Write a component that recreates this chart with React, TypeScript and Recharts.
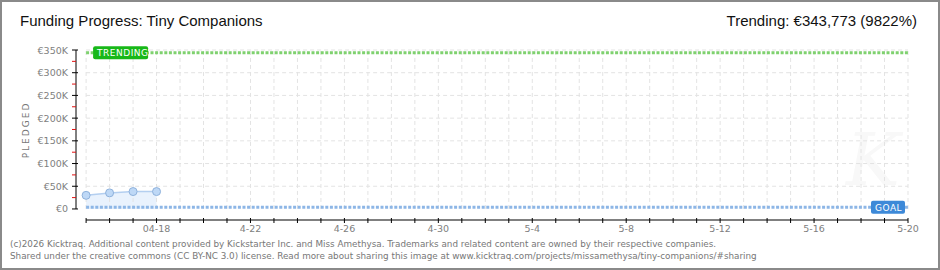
import { ComposedChart, Area, XAxis, YAxis, ReferenceLine } from "recharts";

// pledged totals by day (day 0 = 04-15)
const pledgeDates = ["04-15", "04-16", "04-17", "04-18"];
const pledgeDays = [0, 1, 2, 3];
const pledgedValues = [30000, 35400, 38300, 38300];

const trendingValue = 343773;
const goalValue = 3500;

const dayTicks = [
  0, 1, 2, 3, 4, 5, 6, 7, 8, 9, 10, 11, 12, 13, 14, 15, 16, 17, 18, 19, 20, 21,
  22, 23, 24, 25, 26, 27, 28, 29, 30, 31, 32, 33, 34, 35,
];
const labelDays = [3, 7, 11, 15, 19, 23, 27, 31, 35];
const labelTexts = ["04-18", "4-22", "4-26", "4-30", "5-4", "5-8", "5-12", "5-16", "5-20"];

const yTicks = [
  0, 25000, 50000, 75000, 100000, 125000, 150000, 175000, 200000, 225000, 250000,
  275000, 300000, 325000, 350000,
];
const gridValues = [50000, 100000, 150000, 200000, 250000, 300000, 350000];

const X_MIN = -0.43;
const Y_MIN = -24300;
const FONT = "'DejaVu Sans', sans-serif";

const data = pledgeDays.map((d, i) => ({ day: d, date: pledgeDates[i], pledged: pledgedValues[i] }));

function fmtK(v: number) {
  return v === 0 ? "€0" : `€${v / 1000}K`;
}

function YTick({ x, y, payload }: any) {
  const v = payload.value as number;
  const major = v % 50000 === 0;
  if (!major) {
    return <line x1={x - 4} x2={x} y1={y} y2={y} stroke="#e01010" />;
  }
  return (
    <g>
      <line x1={x - 4} x2={x + 2} y1={y} y2={y} stroke="#000" />
      <text x={x - 8} y={y} dy={3.5} textAnchor="end" fontSize={9.5} fill="#808080" fontFamily={FONT}>
        {fmtK(v)}
      </text>
    </g>
  );
}

function XTick({ x, y, payload }: any) {
  const idx = labelDays.indexOf(payload.value);
  return (
    <g>
      <line x1={x} x2={x} y1={y - 2} y2={y + 3} stroke="#000" />
      {idx >= 0 && (
        <text x={x} y={y + 12} textAnchor="middle" fontSize={9.5} fill="#808080" fontFamily={FONT}>
          {labelTexts[idx]}
        </text>
      )}
    </g>
  );
}

function Badge({ viewBox, text, fill, atEnd }: any) {
  const w = text.length > 4 ? 55 : 34;
  const bx = atEnd ? viewBox.x + viewBox.width - w - 3 : viewBox.x + 7;
  const by = viewBox.y - 6.5;
  return (
    <g>
      <rect x={bx} y={by} width={w} height={13} rx={2} fill={fill} />
      <text x={bx + 4} y={by + 10} fontSize={9} fill="#fff" fontFamily={FONT} letterSpacing={0.5}>
        {text}
      </text>
    </g>
  );
}

export default function App() {
  return (
    <div
      style={{
        position: "absolute",
        left: 0,
        top: 0,
        width: 940,
        height: 270,
        background: "#fff",
        overflow: "hidden",
      }}
    >
      <div
        style={{
          position: "absolute",
          left: 846,
          top: 124,
          fontSize: 72,
          lineHeight: "72px",
          fontStyle: "italic",
          fontFamily: "'DejaVu Serif', serif",
          color: "#f8f8f8",
        }}
      >
        K
      </div>
      <div style={{ position: "absolute", left: 20, top: 12, fontSize: 15, fontFamily: "'Liberation Sans', sans-serif", color: "#111" }}>
        Funding Progress: Tiny Companions
      </div>
      <div style={{ position: "absolute", right: 23, top: 12, fontSize: 15, fontFamily: "'Liberation Sans', sans-serif", color: "#111" }}>
        Trending: €343,773 (9822%)
      </div>
      <div
        style={{
          position: "absolute",
          left: 26,
          top: 130,
          transform: "translate(-50%, -50%) rotate(-90deg)",
          fontSize: 9,
          letterSpacing: 2,
          fontFamily: FONT,
          color: "#777",
        }}
      >
        PLEDGED
      </div>
      <div style={{ position: "absolute", left: 0, top: 0 }}>
        <ComposedChart width={940} height={270} data={data} margin={{ top: 50, right: 32, bottom: 30, left: 0 }}>
          <XAxis
            dataKey="day"
            type="number"
            domain={[X_MIN, 35]}
            ticks={dayTicks}
            interval={0}
            axisLine={false}
            tickLine={false}
            tickSize={0}
            tickMargin={0}
            height={20}
            tick={<XTick />}
          />
          <YAxis
            type="number"
            domain={[Y_MIN, 350000]}
            ticks={yTicks}
            interval={0}
            axisLine={false}
            tickLine={false}
            tickSize={0}
            tickMargin={0}
            width={76}
            tick={<YTick />}
          />
          {gridValues.map((v) => (
            <ReferenceLine
              key={`h${v}`}
              segment={[{ x: 0, y: v }, { x: 35, y: v }]}
              stroke="#e3e3e3"
              strokeDasharray="4 3"
            />
          ))}
          {dayTicks.map((d) => (
            <ReferenceLine
              key={`v${d}`}
              segment={[{ x: d, y: 0 }, { x: d, y: 350000 }]}
              stroke="#e3e3e3"
              strokeDasharray="4 3"
            />
          ))}
          <ReferenceLine segment={[{ x: X_MIN, y: 0 }, { x: X_MIN, y: 350000 }]} stroke="#000" />
          <ReferenceLine segment={[{ x: 0, y: Y_MIN }, { x: 35, y: Y_MIN }]} stroke="#000" />
          <Area
            dataKey="pledged"
            type="linear"
            stroke="#b4cff0"
            strokeWidth={1.5}
            fill="#e9f2fd"
            fillOpacity={1}
            dot={{ r: 4, fill: "#bed8f6", stroke: "#8fb2dc", strokeWidth: 1, fillOpacity: 1 }}
            isAnimationActive={false}
          />
          <ReferenceLine
            segment={[{ x: 0, y: trendingValue }, { x: 35, y: trendingValue }]}
            stroke="#7fd16f"
            strokeWidth={3}
            strokeDasharray="3 1.6"
            label={<Badge text="TRENDING" fill="#18b818" />}
          />
          <ReferenceLine
            segment={[{ x: 0, y: goalValue }, { x: 35, y: goalValue }]}
            stroke="#8db6e6"
            strokeWidth={3}
            strokeDasharray="3 1.6"
            label={<Badge text="GOAL" fill="#3d89d8" atEnd />}
          />
        </ComposedChart>
      </div>
      <div
        style={{
          position: "absolute",
          left: 10,
          top: 238,
          fontSize: 8.8,
          lineHeight: "12px",
          fontFamily: FONT,
          color: "#777",
          whiteSpace: "nowrap",
        }}
      >
        (c)2026 Kicktraq. Additional content provided by Kickstarter Inc. and Miss Amethysa. Trademarks and related content are
        owned by their respective companies.
        <br />
        Shared under the creative commons (CC BY-NC 3.0) license. Read more about sharing this image at
        www.kicktraq.com/projects/missamethysa/tiny-companions/#sharing
      </div>
      <div
        style={{
          position: "absolute",
          left: 0,
          top: 0,
          width: 940,
          height: 270,
          boxSizing: "border-box",
          border: "2px solid #8a8a8a",
          pointerEvents: "none",
        }}
      />
    </div>
  );
}
